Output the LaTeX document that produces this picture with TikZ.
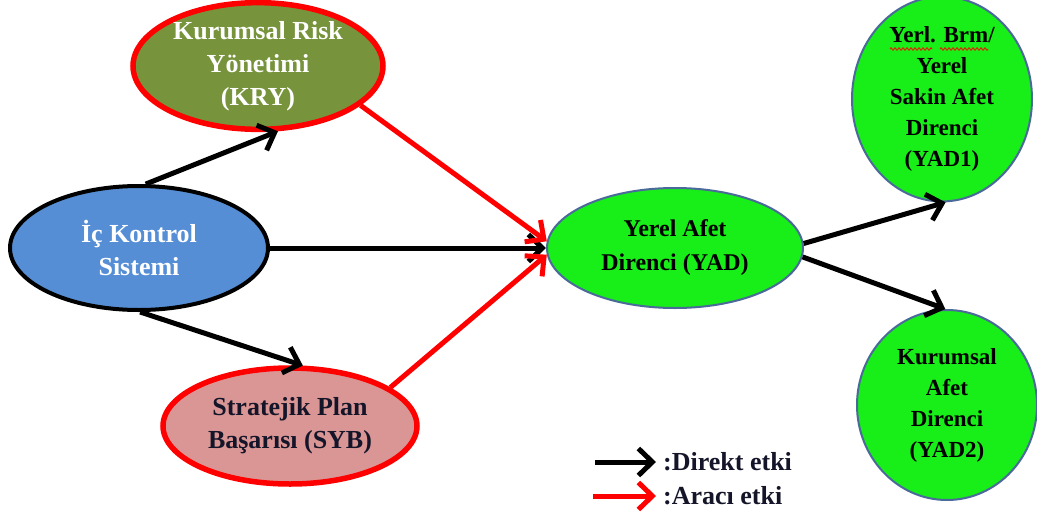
\documentclass[tikz,border=0pt]{standalone}
\usepackage{fontspec}
\setmainfont{Liberation Serif}[
  UprightFont={Liberation Serif},
  BoldFont={Liberation Serif Bold}]
\usetikzlibrary{shapes.geometric,arrows.meta,decorations.pathmorphing}

\definecolor{kryfill}{HTML}{77933C}
\definecolor{iksfill}{HTML}{558ED5}
\definecolor{sybfill}{HTML}{D99694}
\definecolor{yadfill}{RGB}{24,238,24}
\definecolor{yadline}{HTML}{4A6A9A}
\definecolor{darktext}{HTML}{15152A}
\definecolor{mediator}{RGB}{255,0,0}

\tikzset{
  blob/.style={ellipse, inner sep=0pt, align=center,
    font=\rmfamily\bfseries\fontsize{26}{33}\selectfont},
  redring/.style={draw=mediator, line width=5.5pt},
  yadring/.style={draw=yadline, line width=2pt, fill=yadfill, text=black},
  direct/.style={draw=black, line width=5pt,
    -{Straight Barb[length=14pt,width=27pt]}},
  indirect/.style={direct, draw=mediator},
}

\begin{document}
\begin{tikzpicture}[x=1pt,y=-1pt]
\useasboundingbox[fill=white] (0,0) rectangle (1037,525);

% left-hand constructs
\node[blob, redring, fill=kryfill, text=white,
      minimum width=250pt, minimum height=120pt] (kry) at (258,66)
  {Kurumsal Risk\\Yönetimi\\(KRY)};
\node[blob, draw=black, line width=4pt, fill=iksfill, text=white,
      minimum width=258pt, minimum height=124pt] (iks) at (139,248)
  {İç Kontrol\\Sistemi};
\node[blob, redring, fill=sybfill, text=darktext,
      minimum width=254pt, minimum height=116pt] (syb) at (290,426)
  {Stratejik Plan\\Başarısı (SYB)};

% outcome constructs
\node[blob, yadring, minimum width=256pt, minimum height=120pt,
      font=\rmfamily\bfseries\fontsize{24}{34}\selectfont] (yad) at (675,248)
  {Yerel Afet\\Direnci (YAD)};
\node[blob, yadring, minimum width=180pt, minimum height=192pt,
      font=\rmfamily\bfseries\fontsize{23}{31}\selectfont] (yad1) at (942,99)
  {Yerl. Brm/\\Yerel\\Sakin Afet\\Direnci\\(YAD1)};
\node[blob, yadring, minimum width=180pt, minimum height=190pt,
      font=\rmfamily\bfseries\fontsize{23}{31}\selectfont] (yad2) at (947,405)
  {Kurumsal\\Afet\\Direnci\\(YAD2)};

% spell-check squiggles under the abbreviated words
\draw[red, line width=0.8pt, decorate,
      decoration={zigzag, segment length=4pt, amplitude=1.3pt}]
  ([shift={(-52,-50)}]yad1.center) -- ([shift={(-10,-50)}]yad1.center);
\draw[red, line width=0.8pt, decorate,
      decoration={zigzag, segment length=4pt, amplitude=1.3pt}]
  ([shift={(-2,-50)}]yad1.center) -- ([shift={(46,-50)}]yad1.center);

% direct effects
\draw[direct] (iks.84) -- (kry.-73);
\draw[direct] (iks.east) -- (yad.west);
\draw[direct] (iks.-89) -- (syb.78);
\draw[direct] (yad.2) -- (yad1.-88);
\draw[direct] (yad.-4) -- (yad2.91);

% mediated effects
\draw[indirect] (kry.-21) -- (yad.177);
\draw[indirect] (syb.21) -- (yad.183);

% legend
\coordinate (la1) at (595,462);
\coordinate (lb1) at (656,462);
\coordinate (la2) at (593,496);
\coordinate (lb2) at (656,496);
\draw[direct] (la1) -- (lb1);
\draw[indirect] (la2) -- (lb2);
\node[anchor=west, inner sep=0pt, text=darktext,
      font=\rmfamily\bfseries\fontsize{26}{30}\selectfont] (ltxt1) at (663,462) {:Direkt etki};
\node[anchor=west, inner sep=0pt, text=darktext,
      font=\rmfamily\bfseries\fontsize{26}{30}\selectfont] (ltxt2) at (663,496) {:Aracı etki};
\end{tikzpicture}
\end{document}
